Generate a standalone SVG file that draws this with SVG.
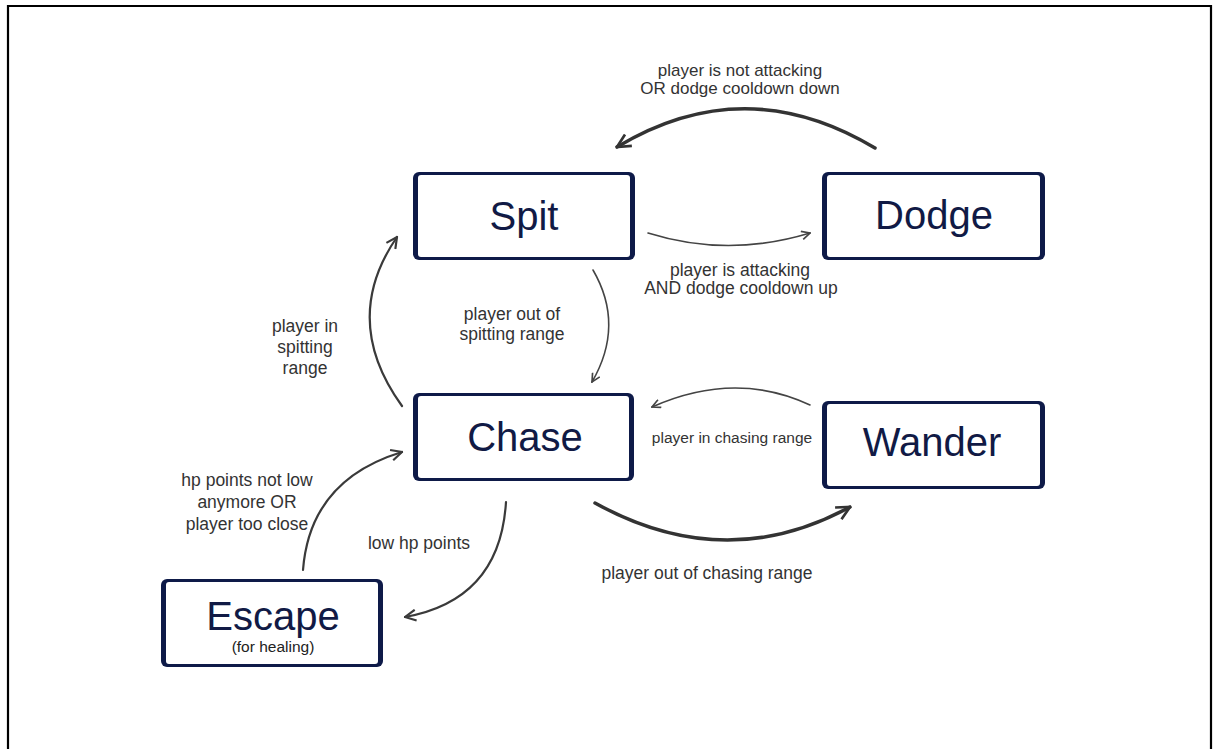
<svg xmlns="http://www.w3.org/2000/svg" width="1214" height="749" viewBox="0 0 1214 749">
<defs>
<style>
.frame{fill:none;stroke:#000;stroke-width:2.2}
.box{fill:#0e1a48}
.inner{fill:#fff}
.nt{font-family:"Liberation Sans",Arial,sans-serif;font-size:40px;fill:#111a45;text-anchor:middle}
.sub{font-family:"Liberation Sans",Arial,sans-serif;font-size:15.5px;fill:#222;text-anchor:middle}
.lbl{font-family:"Liberation Sans",Arial,sans-serif;font-size:17.5px;fill:#333;text-anchor:middle}
.lbls{font-family:"Liberation Sans",Arial,sans-serif;font-size:15.5px;fill:#333;text-anchor:middle}
.thick{fill:none;stroke:#333;stroke-width:3.5;stroke-linecap:round}
.mid{fill:none;stroke:#3a3a3a;stroke-width:2.2;stroke-linecap:round}
.thin{fill:none;stroke:#444;stroke-width:1.6;stroke-linecap:round}
</style>
<marker id="ah-big" viewBox="0 0 12 12" refX="11" refY="6" markerWidth="16" markerHeight="16" markerUnits="userSpaceOnUse" orient="auto">
<path d="M1,1 L11,6 L1,11" fill="none" stroke="#333" stroke-width="2"/>
</marker>
<marker id="ah-mid" viewBox="0 0 12 12" refX="11" refY="6" markerWidth="13" markerHeight="13" markerUnits="userSpaceOnUse" orient="auto">
<path d="M1,1 L11,6 L1,11" fill="none" stroke="#3a3a3a" stroke-width="2"/>
</marker>
<marker id="ah-thin" viewBox="0 0 12 12" refX="11" refY="6" markerWidth="10" markerHeight="10" markerUnits="userSpaceOnUse" orient="auto">
<path d="M1,1 L11,6 L1,11" fill="none" stroke="#444" stroke-width="2"/>
</marker>
</defs>
<rect width="1214" height="749" fill="#fff"/>
<path class="frame" d="M8,749 V6 H1211 V749"/>

<g id="connectors">
<path class="thick" d="M875,148 Q745,70 617,147" marker-end="url(#ah-big)"/>
<path class="thin" d="M648,233 Q728,258 810,233" marker-end="url(#ah-thin)"/>
<path class="thin" d="M593,270 Q625,325 592,382" marker-end="url(#ah-thin)"/>
<path class="mid" d="M402,406 Q340,320 397,237" marker-end="url(#ah-mid)"/>
<path class="mid" d="M303,570 Q310,480 402,452" marker-end="url(#ah-mid)"/>
<path class="mid" d="M506,502 Q500,600 405,617" marker-end="url(#ah-mid)"/>
<path class="thin" d="M810,405 Q735,370 652,407" marker-end="url(#ah-thin)"/>
<path class="thick" d="M595,503 Q725,575 850,507" marker-end="url(#ah-big)"/>

<text class="lbl" x="740" y="76" style="font-size:17px">player is not attacking</text>
<text class="lbl" x="740" y="94" style="font-size:17px">OR dodge cooldown down</text>
<text class="lbl" x="740" y="276">player is attacking</text>
<text class="lbl" x="741" y="294">AND dodge cooldown up</text>
<text class="lbl" x="512" y="320">player out of</text>
<text class="lbl" x="512" y="340">spitting range</text>
<text class="lbl" x="305" y="332">player in</text>
<text class="lbl" x="305" y="353">spitting</text>
<text class="lbl" x="305" y="374">range</text>
<text class="lbl" x="247" y="486">hp points not low</text>
<text class="lbl" x="247" y="508">anymore OR</text>
<text class="lbl" x="247" y="530">player too close</text>
<text class="lbl" x="419" y="549">low hp points</text>
<text class="lbls" x="732" y="443">player in chasing range</text>
<text class="lbl" x="707" y="579">player out of chasing range</text>
</g>

<g id="spit">
<rect class="box" x="413" y="172" width="222" height="88" rx="6"/>
<rect class="inner" x="418" y="175" width="212" height="82" rx="3"/>
<text class="nt" x="524" y="230">Spit</text>
</g>
<g id="dodge">
<rect class="box" x="822" y="172" width="223" height="88" rx="6"/>
<rect class="inner" x="827" y="175" width="213" height="82" rx="3"/>
<text class="nt" x="934" y="229">Dodge</text>
</g>
<g id="chase">
<rect class="box" x="413" y="393" width="221" height="88" rx="6"/>
<rect class="inner" x="418" y="396" width="211" height="82" rx="3"/>
<text class="nt" x="525" y="451">Chase</text>
</g>
<g id="wander">
<rect class="box" x="822" y="401" width="223" height="88" rx="6"/>
<rect class="inner" x="827" y="404" width="213" height="82" rx="3"/>
<text class="nt" x="932" y="456">Wander</text>
</g>
<g id="escape">
<rect class="box" x="161" y="579" width="222" height="88" rx="6"/>
<rect class="inner" x="166" y="582" width="212" height="82" rx="3"/>
<text class="nt" x="273" y="630">Escape</text>
<text class="sub" x="273" y="652">(for healing)</text>
</g>
</svg>
